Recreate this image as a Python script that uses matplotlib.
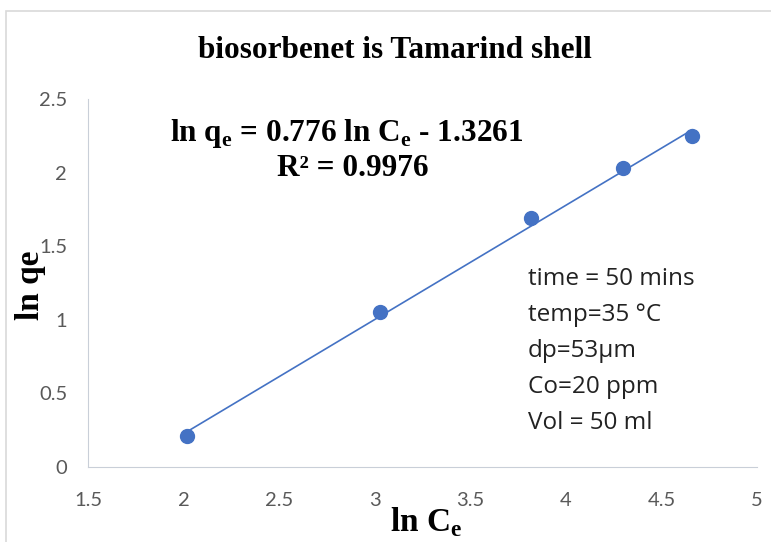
import numpy as np
import matplotlib
matplotlib.use('Agg')
import matplotlib.pyplot as plt
from matplotlib.patches import Rectangle

# data
ln_ce = [2.02, 3.03, 3.82, 4.30, 4.66]
ln_qe = [0.21, 1.05, 1.69, 2.03, 2.25]
slope = 0.776
intercept = -1.3261
r_squared = 0.9976
conditions = ['time = 50 mins', 'temp=35 \u00b0C', 'dp=53\u00b5m', 'Co=20 ppm', 'Vol = 50 ml']
x_ticks = [1.5, 2, 2.5, 3, 3.5, 4, 4.5, 5]
y_ticks = [0, 0.5, 1, 1.5, 2, 2.5]

blue = '#4472C4'
grey = '#595959'
serif = 'Liberation Serif'

fig = plt.figure(figsize=(7.71, 5.42), dpi=100)
# outer chart border
fig.patches.append(Rectangle((6 / 771, -0.05), 1.2, 1 - 11 / 542 + 0.05, transform=fig.transFigure,
                             fill=False, edgecolor='#d9d9d9', linewidth=1.2))

ax = fig.add_axes([88 / 771, 1 - 467 / 542, (757 - 88) / 771, (467 - 99) / 542])

# linear trendline over the data range
xs = np.array([min(ln_ce), max(ln_ce)])
ax.plot(xs, slope * xs + intercept, color=blue, linewidth=1.2, zorder=2)
ax.plot(ln_ce, ln_qe, 'o', color=blue, markersize=10, zorder=3)

ax.set_xlim(1.5, 5)
ax.set_ylim(0, 2.5)
ax.set_xticks(x_ticks)
ax.set_xticklabels([f'{t:g}' for t in x_ticks])
ax.set_yticks(y_ticks)
ax.set_yticklabels([f'{t:g}' for t in y_ticks])
ax.tick_params(length=0, labelsize=14.5, labelcolor=grey, pad=15)
ax.tick_params(axis='x', pad=18)
for lab in ax.get_xticklabels() + ax.get_yticklabels():
    lab.set_family('Lato')

for s in ['top', 'right']:
    ax.spines[s].set_visible(False)
ax.spines['left'].set_color('#c9cfd8')
ax.spines['bottom'].set_color('#c9cfd8')

fig.text(395 / 771, 1 - 50 / 542, 'biosorbenet is Tamarind shell', ha='center', va='center',
         family=serif, weight='bold', fontsize=22.5)

eq = f'ln q$_\\mathregular{{e}}$ = {slope} ln C$_\\mathregular{{e}}$ - {intercept * -1:.4f}'
fig.text(347 / 771, 1 - 133 / 542, eq, ha='center', va='center',
         family=serif, weight='bold', fontsize=22.5)
fig.text(353 / 771, 1 - 168 / 542, f'R\u00b2 = {r_squared}', ha='center', va='center',
         family=serif, weight='bold', fontsize=22.5)

for i, line in enumerate(conditions):
    fig.text(528 / 771, 1 - (279 + 36 * i) / 542, line, ha='left', va='center',
             family='Open Sans', fontsize=17.5, color='#222222')

fig.text(30 / 771, 1 - 285 / 542, 'ln qe', rotation=90, ha='center', va='center',
         family=serif, weight='bold', fontsize=24)
fig.text(426 / 771, 1 - 522 / 542, 'ln C$_\\mathregular{e}$', ha='center', va='center',
         family=serif, weight='bold', fontsize=24)

fig.savefig('out.png', dpi=100, facecolor='white')
